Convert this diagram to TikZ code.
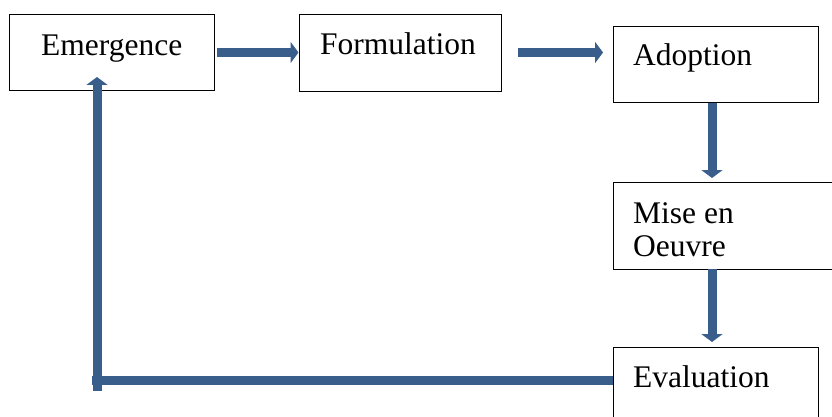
\documentclass[tikz,border=0pt]{standalone}
\usepackage{fontspec}
\setmainfont{Liberation Serif}
\usetikzlibrary{arrows.meta}
\definecolor{arrowblue}{RGB}{57,94,139}
\begin{document}
\begin{tikzpicture}[x=1pt,y=-1pt,
  box/.style={draw=black,line width=1pt,inner sep=0pt},
  lbl/.style={anchor=base west,inner sep=0pt,font=\fontsize{31.5}{33}\selectfont},
  flow/.style={draw=arrowblue,line width=9pt,-{Triangle[width=21pt,length=8pt]}},
  bar/.style={draw=arrowblue,line width=9pt}]
\useasboundingbox (0,0) rectangle (832,417);
\clip (0,0) rectangle (832,417);
\fill[white] (0,0) rectangle (832,417);
% boxes
\node[box,minimum width=205pt,minimum height=76pt] (em) at (111.5,53) {};
\node[box,minimum width=202pt,minimum height=77pt] (fo) at (400,53.5) {};
\node[box,minimum width=205pt,minimum height=76pt] (ad) at (715.5,65) {};
\node[box,minimum width=240pt,minimum height=87pt,anchor=north west] (mi) at (613,182) {};
\node[box,minimum width=205pt,minimum height=90pt,anchor=north west] (ev) at (613,347) {};
% labels
\node[lbl] (t1) at (41,56) {Emergence};
\node[lbl] (t2) at (320,55) {Formulation};
\node[lbl] (t3) at (633,66) {Adoption};
\node[lbl] (t4) at (633,223) {Mise en};
\node[lbl] (t5) at (633,256) {Oeuvre};
\node[lbl] (t6) at (633,387) {Evaluation};
% arrows
\coordinate (a1s) at (217,52.5);
\coordinate (a2s) at (518,52.5);
\coordinate (a2e) at (603,52.5);
\coordinate (fbc) at (92,380);
\coordinate (fbb) at (97,391);
\coordinate (fbt) at (97,77);
\draw[flow] (a1s) -- (fo.west |- a1s);
\draw[flow] (a2s) -- (a2e);
\draw[flow] (ad.south -| 712,0) -- (712,178);
\draw[flow] (712,269) -- (712,342);
\draw[bar] (ev.west |- fbc) -- (fbc);
\draw[flow] (fbb) -- (fbt);
\end{tikzpicture}
\end{document}
